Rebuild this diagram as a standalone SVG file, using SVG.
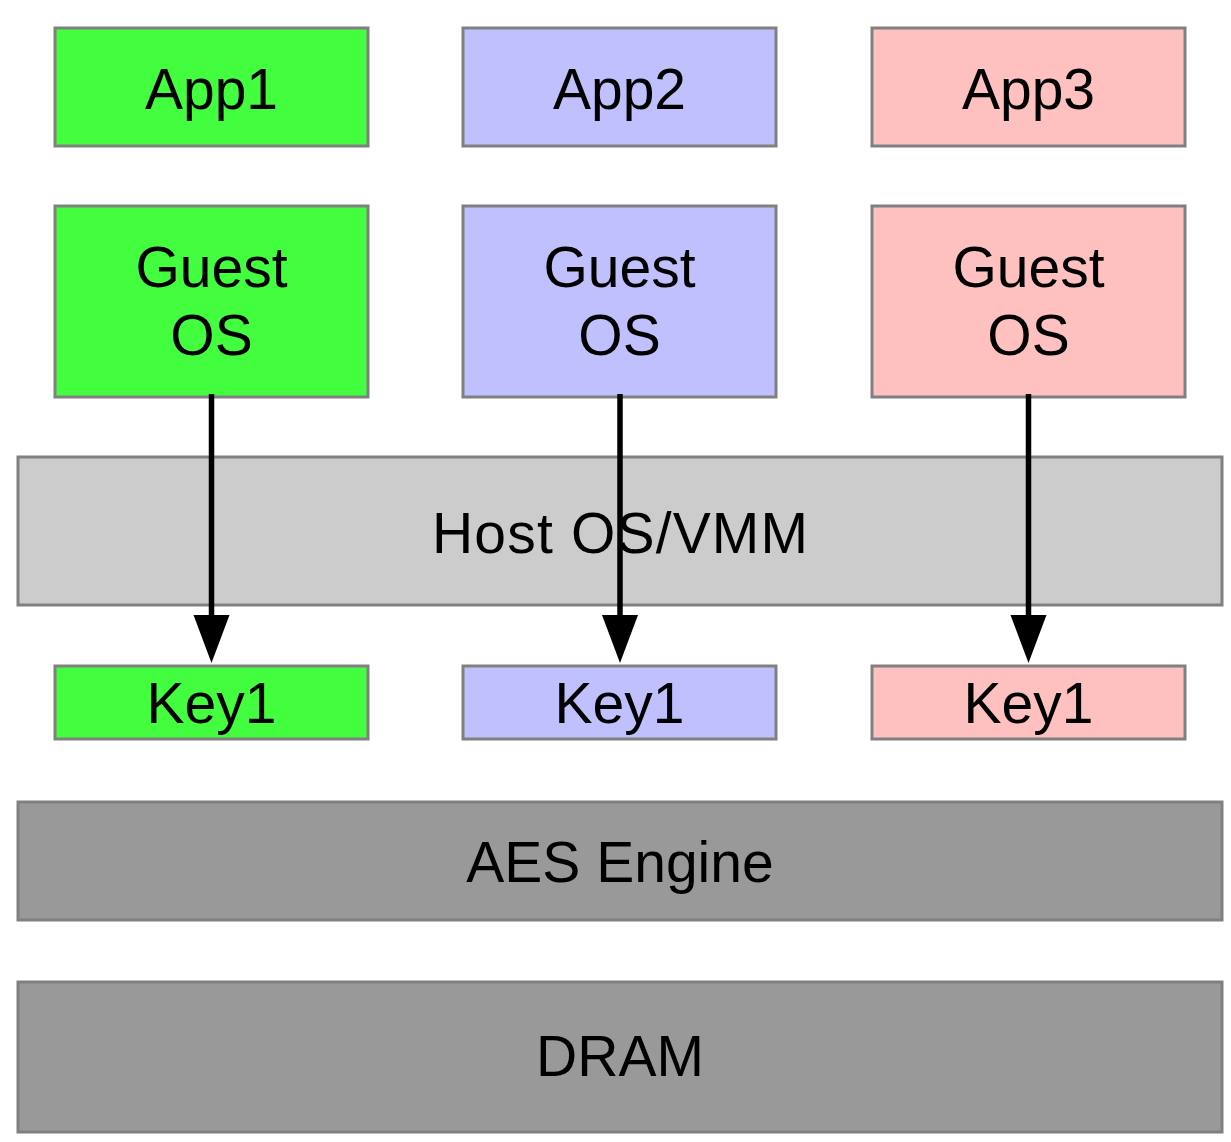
<svg xmlns="http://www.w3.org/2000/svg" width="1231" height="1142" viewBox="0 0 1231 1142">
<style>
.box{stroke:#808080;stroke-width:3}
.g{fill:#43fe3f}.b{fill:#c0c0ff}.r{fill:#ffc0c0}.h{fill:#cccccc}.d{fill:#999999}
text{font-family:"Liberation Sans",Arial,sans-serif;font-size:57px;fill:#000;text-anchor:middle}
.arr{stroke:#000;stroke-width:5.5;fill:none}
</style>
<rect width="1231" height="1142" fill="#fff"/>
<g id="host"><rect class="box h" x="18" y="457" width="1204" height="148"/><text x="620" y="553" textLength="376">Host OS/VMM</text></g>
<g id="app1"><rect class="box g" x="55" y="28" width="313" height="118"/><text x="211.5" y="109">App1</text></g>
<g id="app2"><rect class="box b" x="463" y="28" width="313" height="118"/><text x="619.5" y="109">App2</text></g>
<g id="app3"><rect class="box r" x="872" y="28" width="313" height="118"/><text x="1028.5" y="109">App3</text></g>
<g id="guest1"><rect class="box g" x="55" y="206" width="313" height="191"/><text x="211.5" y="287">Guest</text><text x="211.5" y="355">OS</text></g>
<g id="guest2"><rect class="box b" x="463" y="206" width="313" height="191"/><text x="619.5" y="287">Guest</text><text x="619.5" y="355">OS</text></g>
<g id="guest3"><rect class="box r" x="872" y="206" width="313" height="191"/><text x="1028.5" y="287">Guest</text><text x="1028.5" y="355">OS</text></g>
<g id="key1"><rect class="box g" x="55" y="666" width="313" height="73"/><text x="211.5" y="723">Key1</text></g>
<g id="key2"><rect class="box b" x="463" y="666" width="313" height="73"/><text x="619.5" y="723">Key1</text></g>
<g id="key3"><rect class="box r" x="872" y="666" width="313" height="73"/><text x="1028.5" y="723">Key1</text></g>
<g id="aes"><rect class="box d" x="18" y="802" width="1204" height="118"/><text x="620" y="882">AES Engine</text></g>
<g id="dram"><rect class="box d" x="18" y="982" width="1204" height="150"/><text x="620" y="1076">DRAM</text></g>
<g id="connectors">
<line class="arr" x1="211.5" y1="394" x2="211.5" y2="620"/><polygon points="193.5,615 229.5,615 211.5,663"/>
<line class="arr" x1="620" y1="394" x2="620" y2="620"/><polygon points="602,615 638,615 620,663"/>
<line class="arr" x1="1028.5" y1="394" x2="1028.5" y2="620"/><polygon points="1010.5,615 1046.5,615 1028.5,663"/>
</g>
</svg>
